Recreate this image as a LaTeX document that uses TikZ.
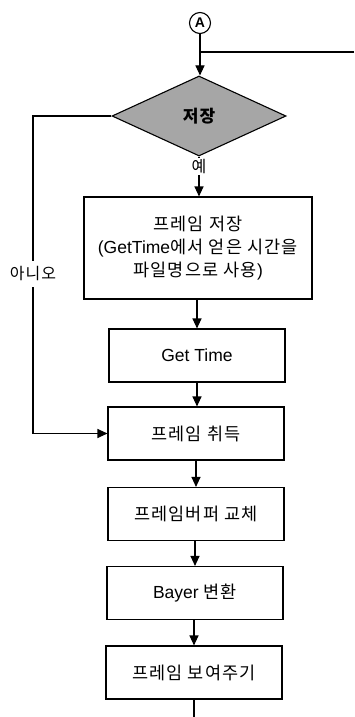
\documentclass[tikz,border=0pt]{standalone}
\usepackage{fontspec}
\setmainfont{Liberation Sans}
\newfontfamily\kr[LetterSpace=7]{Noto Sans CJK KR}
\usetikzlibrary{shapes.geometric,arrows.meta}
\begin{document}
\begin{tikzpicture}[x=1pt,y=-1pt,
  line width=1.1pt,
  flow/.style={-{Triangle[length=10pt,width=9pt]}},
  procbox/.style={draw,rectangle,minimum width=176pt,minimum height=53pt,inner sep=0pt,align=center,font=\fontsize{17.5}{23}\selectfont},
  decide/.style={draw,diamond,fill=black!35,minimum width=174pt,minimum height=80pt,aspect=2.2,inner sep=0pt,font=\fontsize{17}{18}\selectfont\bfseries},
  lbl/.style={font=\fontsize{16}{16}\selectfont,inner sep=1pt}
]
\useasboundingbox (0,0) rectangle (354,717);
\node[draw,circle,minimum size=21pt,inner sep=0pt,font=\fontsize{14}{14}\selectfont\bfseries] (A) at (200,23) {A};
\coordinate (join) at (200,52);
\coordinate (loopin) at (354,52);
\node[decide] (dia) at (199,116) {\kr 저장};
\node[procbox,minimum width=228pt,minimum height=102pt] (save) at (198,248)
  {{\kr 프레임 저장}\\(GetTime{\kr 에서 얻은 시간을}\\{\kr 파일명으로 사용})};
\node[procbox] (gt) at (197,355.5) {Get Time};
\node[procbox] (grab) at (196,433.5) {\kr 프레임 취득};
\node[procbox] (swap) at (196,514) {\kr 프레임버퍼 교체};
\node[procbox] (bayer) at (195,593) {Bayer {\kr 변환}};
\node[procbox] (show) at (194,672.5) {\kr 프레임 보여주기};
\coordinate (bottom) at (194,717);
\coordinate (lc1) at (33,116);
\coordinate (lc2) at (33,433.5);

\draw (A.south) -- (join);
\draw (loopin) -- (join);
\draw[flow] (join) -- (join |- dia.north);
\draw[flow] (dia.south) -- (dia.south |- save.north) node[pos=0.25,lbl,fill=white] {\kr 예};
\draw[flow] (save.south -| gt.south) -- (gt.north);
\draw[flow] (gt.south) -- (gt.south |- grab.north);
\draw[flow] (grab.south) -- (grab.south |- swap.north);
\draw[flow] (swap.south -| bayer.south) -- (bayer.north);
\draw[flow] (bayer.south -| show.south) -- (show.north);
\draw (show.south) -- (bottom);
\draw[flow] (dia.west) -- (lc1) -- (lc2) -- (grab.west);
\node[lbl,fill=white,inner ysep=6pt] (no) at (33,274) {\kr 아니오};
\end{tikzpicture}
\end{document}
